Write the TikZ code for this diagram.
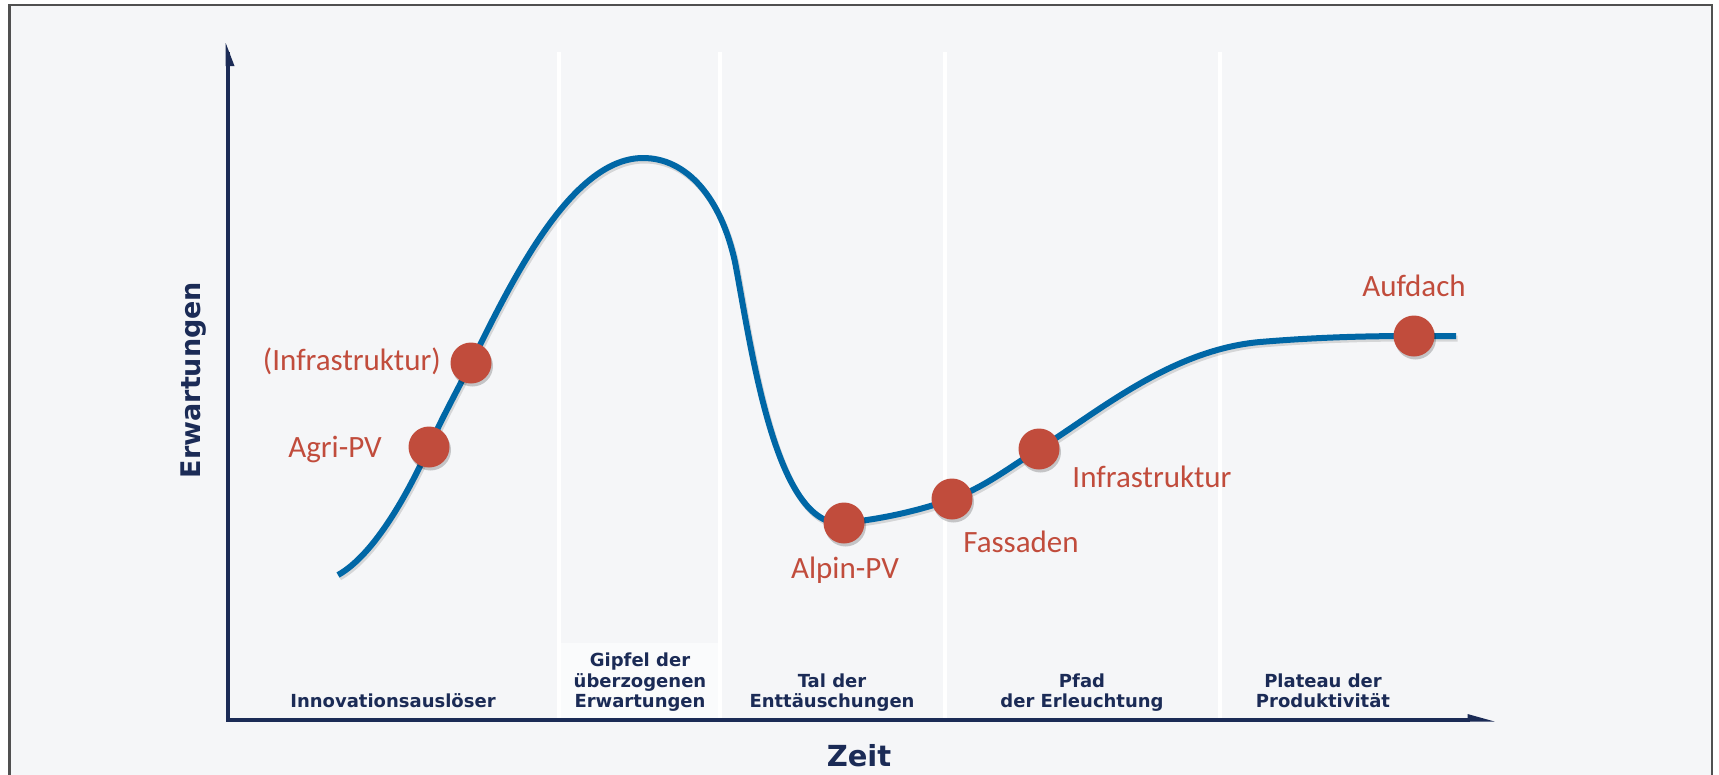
\documentclass[tikz,border=0pt]{standalone}
\usepackage{fontspec}
\setmainfont{Carlito}
\newfontfamily\dvsans{DejaVu Sans}
\definecolor{bgc}{RGB}{245,246,248}
\definecolor{lightbox}{RGB}{250,251,252}
\definecolor{navy}{RGB}{27,43,86}
\definecolor{curveblue}{RGB}{0,103,166}
\definecolor{dotred}{RGB}{193,76,60}
\definecolor{framegray}{RGB}{80,80,80}
\tikzset{
  axisline/.style={draw=navy, line width=4pt, line join=miter},
  sepline/.style={draw=white, line width=4pt},
  phase/.style={font=\dvsans\bfseries\fontsize{18}{20.5}\selectfont, text=navy, align=center, anchor=south, inner sep=0pt},
  redlbl/.style={font=\fontsize{31}{36}\selectfont, text=dotred, inner sep=0pt},
  dot/.style={circle, fill=dotred, minimum size=41pt, inner sep=0pt},
  dotshadow/.style={circle, fill=black, opacity=0.2, minimum size=41pt, inner sep=0pt},
  hypecurve/.style={draw=curveblue, line width=6pt, line cap=butt},
  curveshadow/.style={draw=black, opacity=0.13, line width=6pt},
  bigaxis/.style={font=\dvsans\bfseries\fontsize{29}{34}\selectfont, text=navy, inner sep=0pt}
}
\begin{document}
\begin{tikzpicture}[x=1pt,y=-1pt]
\clip (0,0) rectangle (1719,774);
\fill[white] (0,0) rectangle (1719,774);
\fill[bgc] (9.5,5) rectangle (1712,800);
\draw[framegray, line width=2.5pt] (9.5,800) -- (9.5,5) -- (1712,5) -- (1712,800);

% column separators
\fill[lightbox] (559,643) rectangle (720,718);
\foreach \sx in {559,720,945,1220}{
  \draw[sepline] (\sx,52) -- (\sx,718);
}

% axes
\coordinate (ytop) at (227.7,52);
\coordinate (origin) at (227.7,719.5);
\coordinate (xend) at (1470,719.5);
\draw[axisline] (ytop) -- (origin) -- (xend);
\fill[navy] (225.7,43) -- (234.5,66) -- (225.7,66) -- cycle;
\fill[navy] (1494.5,721.5) -- (1467.5,714) -- (1467.5,721.5) -- cycle;

% phase labels
\node[phase] (p1) at (393,714.2) {Innovationsauslöser\strut};
\node[phase] (p2) at (640,714.2) {Gipfel der\\überzogenen\\Erwartungen\strut};
\node[phase] (p3) at (832,714.2) {Tal der\\Enttäuschungen\strut};
\node[phase] (p4) at (1082,714.2) {Pfad\\der Erleuchtung\strut};
\node[phase] (p5) at (1323,714.2) {Plateau der\\Produktivität\strut};

% axis titles
\node[bigaxis, anchor=base] (zeit) at (859,766) {Zeit};
\node[bigaxis, rotate=90, font=\dvsans\bfseries\fontsize{27}{32}\selectfont] (erw) at (193.5,380) {Erwartungen};

% hype curve
\def\hypepath{(338,575) .. controls (372,556) and (405,500) .. (429,447)
  .. controls (443,416) and (457,391) .. (471,363)
  .. controls (510,285) and (570,158) .. (643,158)
  .. controls (687,158) and (721,198) .. (735,262)
  .. controls (751,345) and (775,530) .. (844,523)
  .. controls (880,519) and (915,512) .. (952,499)
  .. controls (985,487) and (1010,467) .. (1039,449)
  .. controls (1097,413) and (1170,350) .. (1260,342)
  .. controls (1320,337) and (1370,336) .. (1414,336) -- (1456,336)}
\draw[curveshadow, transform canvas={shift={(1.5pt,-2.5pt)}}] \hypepath;
\draw[hypecurve] \hypepath;

% dots
\foreach \px/\py in {429/447, 471/363, 844/523, 952/499, 1039/449, 1414/336}{
  \node[dotshadow] at (\px+1.5,\py+3) {};
}
\node[dot] (agri) at (429,447) {};
\node[dot] (infra1) at (471,363) {};
\node[dot] (alpin) at (844,523) {};
\node[dot] (fass) at (952,499) {};
\node[dot] (infra2) at (1039,449) {};
\node[dot] (aufd) at (1414,336) {};

% labels
\node[redlbl, anchor=base east] (l-infra1) at (441,370) {(Infrastruktur)};
\node[redlbl, anchor=base] (l-agri) at (335,457) {Agri-PV};
\node[redlbl, anchor=base] (l-alpin) at (845,578) {Alpin-PV};
\node[redlbl, anchor=base] (l-fass) at (1021,552) {Fassaden};
\node[redlbl, anchor=base] (l-infra2) at (1152,487) {Infrastruktur};
\node[redlbl, anchor=base] (l-aufd) at (1414,296) {Aufdach};
\end{tikzpicture}
\end{document}
